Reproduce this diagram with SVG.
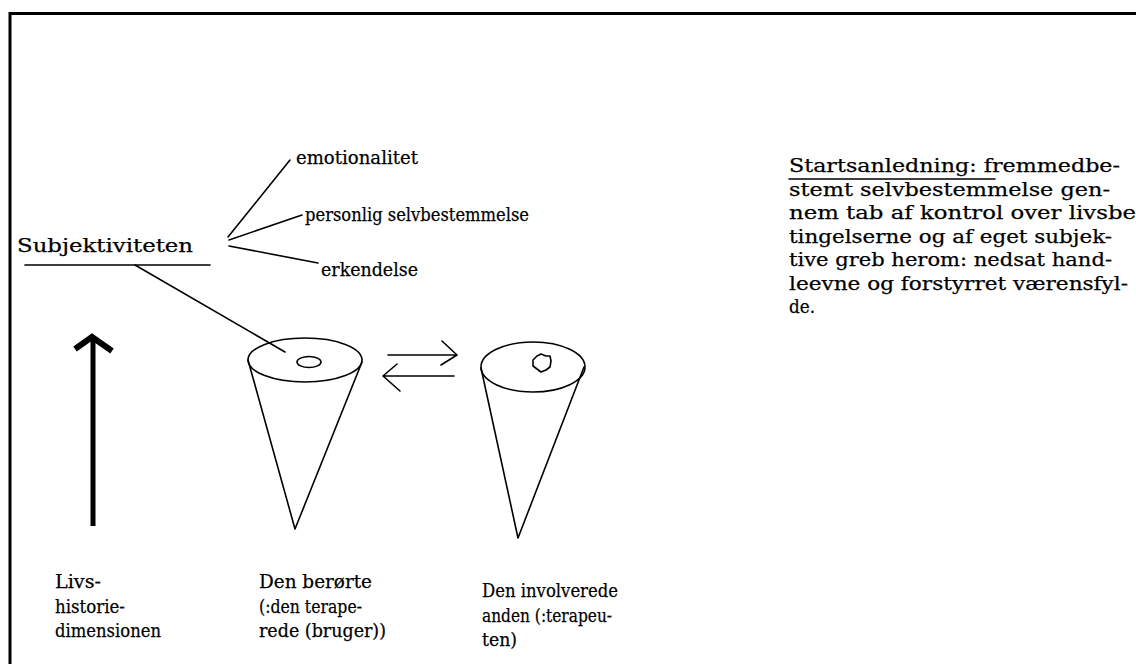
<svg xmlns="http://www.w3.org/2000/svg" width="1136" height="664" viewBox="0 0 1136 664">
<style>
  text { font-family: "DejaVu Serif", "Liberation Serif", serif; font-size: 19px; fill: #000; stroke: #000; stroke-width: 0.25; }
  .ln { stroke: #000; stroke-width: 1.6; fill: none; stroke-linecap: round; stroke-linejoin: round; }
  .thick { stroke: #000; stroke-width: 5; fill: none; }
  .border { stroke: #000; stroke-width: 3; fill: none; }
</style>
<rect x="0" y="0" width="1136" height="664" fill="#fff"/>
<path class="border" d="M10 664 V13.5 H1136"/>

<g id="connectors">
  <line class="ln" x1="228" y1="237" x2="290" y2="160"/>
  <line class="ln" x1="229" y1="240" x2="302" y2="215"/>
  <line class="ln" x1="229" y1="246" x2="318" y2="263"/>
  <line class="ln" x1="135" y1="265" x2="285" y2="352"/>
  <path class="ln" d="M388 355 H457 M442 341 L457 355 L441 365"/>
  <path class="ln" d="M383 376 H454 M397 364 L383 376 L400 391"/>
</g>

<g id="subjektiviteten">
  <text x="17" y="252" textLength="176" lengthAdjust="spacingAndGlyphs">Subjektiviteten</text>
  <line class="ln" x1="25" y1="265" x2="210" y2="265"/>
</g>
<g id="emotionalitet">
  <text x="296" y="164" textLength="122" lengthAdjust="spacingAndGlyphs">emotionalitet</text>
</g>
<g id="personlig">
  <text x="305" y="221" textLength="224" lengthAdjust="spacingAndGlyphs">personlig selvbestemmelse</text>
</g>
<g id="erkendelse">
  <text x="321" y="276" textLength="97" lengthAdjust="spacingAndGlyphs">erkendelse</text>
</g>

<g id="cone-beroerte">
  <ellipse class="ln" cx="305" cy="360" rx="57" ry="22"/>
  <ellipse class="ln" cx="309" cy="362" rx="12" ry="5.5"/>
  <path class="ln" d="M248 360 L295 529 L362 362"/>
</g>
<g id="cone-involverede">
  <ellipse class="ln" cx="533" cy="367" rx="52" ry="25"/>
  <path class="ln" d="M537 356 L541 354 L546 356 L550 356 L551 361 L550 367 L546 370 L541 372 L537 369 L533 366 L533 360 Z"/>
  <path class="ln" d="M481 368 L518 538 L584 367"/>
</g>

<g id="livshistorie-pil">
  <line class="thick" x1="93" y1="339" x2="93" y2="526"/>
  <polyline points="75,349 92,337 112,351" stroke="#000" stroke-width="6" fill="none" stroke-linejoin="miter"/>
</g>

<g id="startsanledning">
  <text x="789" y="172" textLength="331" lengthAdjust="spacingAndGlyphs">Startsanledning: fremmedbe-</text>
  <line class="ln" x1="789" y1="179" x2="995" y2="179"/>
  <text x="789" y="195.5" textLength="321" lengthAdjust="spacingAndGlyphs">stemt selvbestemmelse gen-</text>
  <text x="789" y="219" textLength="347" lengthAdjust="spacingAndGlyphs">nem tab af kontrol over livsbe</text>
  <text x="789" y="242.5" textLength="323" lengthAdjust="spacingAndGlyphs">tingelserne og af eget subjek-</text>
  <text x="789" y="266" textLength="323" lengthAdjust="spacingAndGlyphs">tive greb herom: nedsat hand-</text>
  <text x="789" y="289.5" textLength="339" lengthAdjust="spacingAndGlyphs">leevne og forstyrret værensfyl-</text>
  <text x="789" y="313" textLength="26" lengthAdjust="spacingAndGlyphs">de.</text>
</g>

<g id="label-livshistorie">
  <text x="55" y="588" textLength="46" lengthAdjust="spacingAndGlyphs">Livs-</text>
  <text x="55" y="612.5" textLength="70" lengthAdjust="spacingAndGlyphs">historie-</text>
  <text x="55" y="637" textLength="106" lengthAdjust="spacingAndGlyphs">dimensionen</text>
</g>
<g id="label-beroerte">
  <text x="259" y="588" textLength="113" lengthAdjust="spacingAndGlyphs">Den berørte</text>
  <text x="259" y="612.5" textLength="103" lengthAdjust="spacingAndGlyphs">(:den terape-</text>
  <text x="259" y="637" textLength="127" lengthAdjust="spacingAndGlyphs">rede (bruger))</text>
</g>
<g id="label-involverede">
  <text x="482" y="597" textLength="136" lengthAdjust="spacingAndGlyphs">Den involverede</text>
  <text x="482" y="621.5" textLength="130" lengthAdjust="spacingAndGlyphs">anden (:terapeu-</text>
  <text x="482" y="646" textLength="35" lengthAdjust="spacingAndGlyphs">ten)</text>
</g>
</svg>
